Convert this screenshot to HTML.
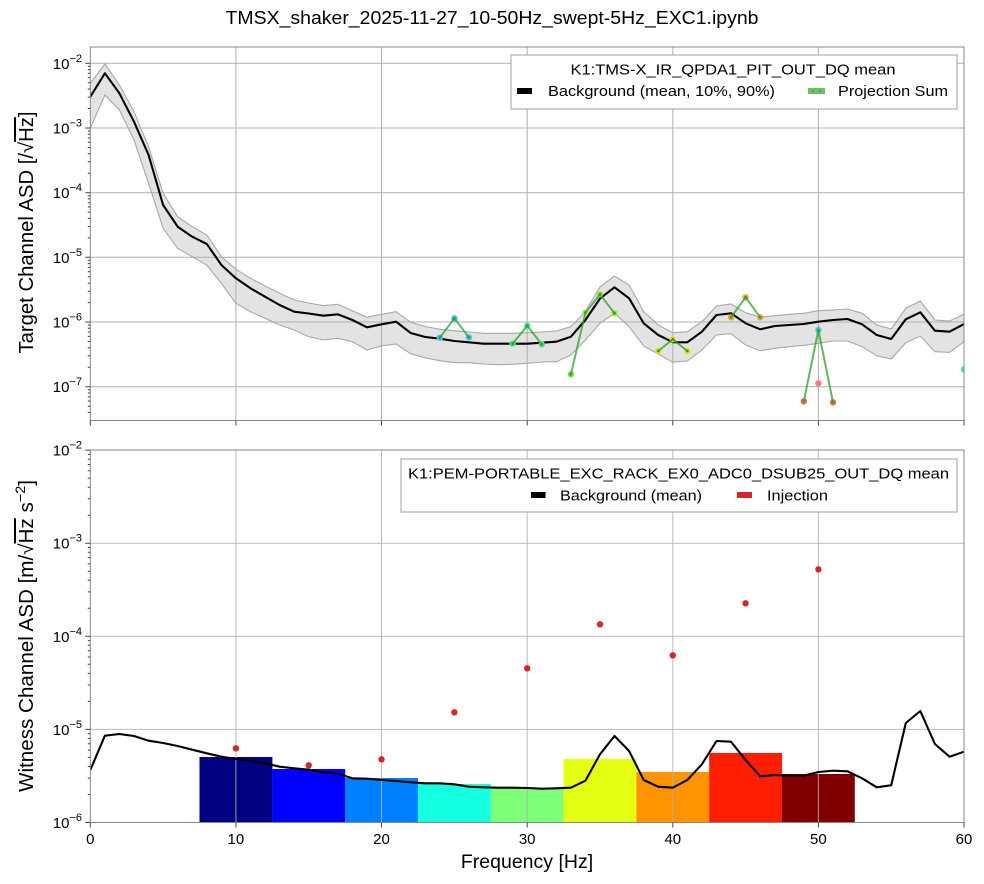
<!DOCTYPE html>
<html><head><meta charset="utf-8"><style>
html,body{margin:0;padding:0;background:#fff;}
svg{display:block;font-family:"Liberation Sans",Arial,sans-serif;}
</style></head><body>
<svg width="984" height="884" viewBox="0 0 984 884" xmlns="http://www.w3.org/2000/svg">
<defs>
<clipPath id="c1"><rect x="90.3" y="47" width="873.7" height="373.5"/></clipPath>
<clipPath id="c2"><rect x="90.3" y="450" width="873.7" height="372.5"/></clipPath>
</defs>
<rect width="984" height="884" fill="#fff"/>
<text x="492" y="24" text-anchor="middle" font-size="18" textLength="533" lengthAdjust="spacingAndGlyphs" fill="#000">TMSX_shaker_2025-11-27_10-50Hz_swept-5Hz_EXC1.ipynb</text>

<!-- ===== TOP AXES ===== -->
<g clip-path="url(#c1)">
<polygon fill="#e3e3e3" points="90.3,83.3 104.9,64 119.4,85 134,111.7 148.6,146.7 163.1,193.3 177.7,216.7 192.2,226.7 206.8,235 221.4,256.7 235.9,269.3 250.5,278.3 265,286 279.6,293.3 294.2,300 308.7,303 323.3,305.7 337.9,304.3 352.4,310.7 367,317.3 381.5,314.3 396.1,311.7 410.7,322.3 425.2,326.5 439.8,329.3 454.4,330.7 468.9,332 483.5,333.3 498,333.3 512.6,333.3 527.2,332.7 541.7,332 556.3,331 570.9,326.7 585.4,311.7 600,286.7 614.5,276 629.1,285 643.7,311.7 658.2,325 672.8,332.7 687.3,331.7 701.9,321.7 716.5,306 731,304 745.6,312.7 760.2,317.3 774.7,315.7 789.3,314.3 803.8,313.3 818.4,310.7 833,310 847.5,309 862.1,313.3 876.7,325 891.2,329 905.8,308.3 920.3,301 934.9,320 949.5,321 964,314.3 964,341.7 949.5,352.3 934.9,351.7 920.3,336 905.8,342.7 891.2,359 876.7,355.7 862.1,346.7 847.5,341 833,341 818.4,343.3 803.8,345.3 789.3,346.7 774.7,348.3 760.2,350.7 745.6,345 731,333.7 716.5,335 701.9,350 687.3,361 672.8,362.2 658.2,354 643.7,346 629.1,326.7 614.5,313.3 600,323.3 585.4,340 570.9,355 556.3,361.7 541.7,362 527.2,363.3 512.6,364.3 498,364.7 483.5,364 468.9,362.7 454.4,362.7 439.8,360.7 425.2,357.8 410.7,353.7 396.1,344 381.5,346 367,350 352.4,341.7 337.9,338.3 323.3,340 308.7,336.7 294.2,330 279.6,325 265,318.3 250.5,311.7 235.9,303.3 221.4,283.3 206.8,265 192.2,256.7 177.7,248.3 163.1,228.3 148.6,183.3 134,140 119.4,110 104.9,95 90.3,128.3"/>
<g stroke="#b0b0b0" stroke-width="1" fill="none">
<path d="M235.9,47V420.5M381.5,47V420.5M527.2,47V420.5M672.8,47V420.5M818.4,47V420.5"/>
<path d="M90.3,63.3H964M90.3,128H964M90.3,192.7H964M90.3,257.3H964M90.3,322H964M90.3,386.7H964"/>
</g>
<g fill="none" stroke="#a8a8a8" stroke-width="1.1">
<polyline points="90.3,83.3 104.9,64 119.4,85 134,111.7 148.6,146.7 163.1,193.3 177.7,216.7 192.2,226.7 206.8,235 221.4,256.7 235.9,269.3 250.5,278.3 265,286 279.6,293.3 294.2,300 308.7,303 323.3,305.7 337.9,304.3 352.4,310.7 367,317.3 381.5,314.3 396.1,311.7 410.7,322.3 425.2,326.5 439.8,329.3 454.4,330.7 468.9,332 483.5,333.3 498,333.3 512.6,333.3 527.2,332.7 541.7,332 556.3,331 570.9,326.7 585.4,311.7 600,286.7 614.5,276 629.1,285 643.7,311.7 658.2,325 672.8,332.7 687.3,331.7 701.9,321.7 716.5,306 731,304 745.6,312.7 760.2,317.3 774.7,315.7 789.3,314.3 803.8,313.3 818.4,310.7 833,310 847.5,309 862.1,313.3 876.7,325 891.2,329 905.8,308.3 920.3,301 934.9,320 949.5,321 964,314.3"/>
<polyline points="964,341.7 949.5,352.3 934.9,351.7 920.3,336 905.8,342.7 891.2,359 876.7,355.7 862.1,346.7 847.5,341 833,341 818.4,343.3 803.8,345.3 789.3,346.7 774.7,348.3 760.2,350.7 745.6,345 731,333.7 716.5,335 701.9,350 687.3,361 672.8,362.2 658.2,354 643.7,346 629.1,326.7 614.5,313.3 600,323.3 585.4,340 570.9,355 556.3,361.7 541.7,362 527.2,363.3 512.6,364.3 498,364.7 483.5,364 468.9,362.7 454.4,362.7 439.8,360.7 425.2,357.8 410.7,353.7 396.1,344 381.5,346 367,350 352.4,341.7 337.9,338.3 323.3,340 308.7,336.7 294.2,330 279.6,325 265,318.3 250.5,311.7 235.9,303.3 221.4,283.3 206.8,265 192.2,256.7 177.7,248.3 163.1,228.3 148.6,183.3 134,140 119.4,110 104.9,95 90.3,128.3"/>
</g>
<polyline fill="none" stroke="#000" stroke-width="2.1" stroke-linejoin="round" points="90.3,96.7 104.9,73.3 119.4,93.3 134,121.7 148.6,155 163.1,205 177.7,226.7 192.2,236.7 206.8,244 221.4,265 235.9,278.3 250.5,288.3 265,296.7 279.6,305 294.2,311.7 308.7,313.5 323.3,315.7 337.9,314.3 352.4,320 367,327.3 381.5,324.3 396.1,321.7 410.7,333 425.2,337 439.8,338.7 454.4,341 468.9,342.3 483.5,343.7 498,343.7 512.6,343.7 527.2,343.7 541.7,342.7 556.3,341.7 570.9,336.7 585.4,320 600,298.5 614.5,287.3 629.1,298.3 643.7,323.3 658.2,335 672.8,342.2 687.3,342.3 701.9,331.7 716.5,315 731,313.3 745.6,323.3 760.2,329.3 774.7,326 789.3,325 803.8,324 818.4,321.7 833,320 847.5,319 862.1,324.3 876.7,335 891.2,339 905.8,319.3 920.3,312.3 934.9,330.7 949.5,331.7 964,324"/>
<g>
<circle cx="439.8" cy="337.7" r="3.2" fill="#3cc8ea"/><circle cx="454.4" cy="318.3" r="3.2" fill="#3cc8ea"/><circle cx="468.9" cy="337.3" r="3.2" fill="#3cc8ea"/>
<circle cx="512.6" cy="343.7" r="3.2" fill="#4ee68c"/><circle cx="527.2" cy="325.7" r="3.2" fill="#4ee68c"/><circle cx="541.7" cy="344.3" r="3.2" fill="#4ee68c"/>
<circle cx="570.9" cy="374.3" r="3.2" fill="#7ee040"/><circle cx="585.4" cy="312.7" r="3.2" fill="#a0e830"/><circle cx="600" cy="294.3" r="3.2" fill="#a0e830"/><circle cx="614.5" cy="313.3" r="3.2" fill="#a0e830"/>
<circle cx="658.2" cy="351" r="3.2" fill="#ecdc1c"/><circle cx="672.8" cy="339.3" r="3.2" fill="#ecdc1c"/><circle cx="687.3" cy="351" r="3.2" fill="#ecdc1c"/>
<circle cx="731" cy="317.3" r="3.2" fill="#f5a030"/><circle cx="745.6" cy="297.3" r="3.2" fill="#f5a030"/><circle cx="760.2" cy="317.3" r="3.2" fill="#f5a030"/>
<circle cx="803.8" cy="401.3" r="3.2" fill="#f26655"/><circle cx="818.4" cy="330" r="3.2" fill="#40ccf0"/><circle cx="833" cy="402.3" r="3.2" fill="#f26655"/>
<circle cx="818.4" cy="383.3" r="3.2" fill="#ff7b7b"/>
<circle cx="964" cy="369.3" r="3.2" fill="#40e8a0"/>
</g>
<g fill="none" stroke="#2ca02c" stroke-opacity="0.75" stroke-width="2" stroke-linejoin="round">
<polyline points="439.8,337.7 454.4,318.3 468.9,337.3"/>
<polyline points="512.6,343.7 527.2,325.7 541.7,344.3"/>
<polyline points="570.9,374.3 585.4,312.7 600,294.3 614.5,313.3"/>
<polyline points="658.2,351 672.8,339.3 687.3,351"/>
<polyline points="731,317.3 745.6,297.3 760.2,317.3"/>
<polyline points="803.8,401.3 818.4,330 833,402.3"/>
</g>
<g fill="#3a9a3a">
<circle cx="439.8" cy="337.7" r="1.4"/><circle cx="454.4" cy="318.3" r="1.4"/><circle cx="468.9" cy="337.3" r="1.4"/>
<circle cx="512.6" cy="343.7" r="1.4"/><circle cx="527.2" cy="325.7" r="1.4"/><circle cx="541.7" cy="344.3" r="1.4"/>
<circle cx="570.9" cy="374.3" r="1.4"/><circle cx="585.4" cy="312.7" r="1.4"/><circle cx="600" cy="294.3" r="1.4"/><circle cx="614.5" cy="313.3" r="1.4"/>
<circle cx="658.2" cy="351" r="1.4"/><circle cx="672.8" cy="339.3" r="1.4"/><circle cx="687.3" cy="351" r="1.4"/>
<circle cx="731" cy="317.3" r="1.4"/><circle cx="745.6" cy="297.3" r="1.4"/><circle cx="760.2" cy="317.3" r="1.4"/>
<circle cx="803.8" cy="401.3" r="1.4"/><circle cx="818.4" cy="330" r="1.4"/><circle cx="833" cy="402.3" r="1.4"/>
</g>
</g>
<rect x="90.3" y="47" width="873.7" height="373.5" fill="none" stroke="#888" stroke-width="1"/>
<g stroke="#444" stroke-width="1" fill="none">
<path d="M90.3,420.5v5M235.9,420.5v5M381.5,420.5v5M527.2,420.5v5M672.8,420.5v5M818.4,420.5v5M964,420.5v5"/>
<path d="M90.3,63.3h-5M90.3,128h-5M90.3,192.7h-5M90.3,257.3h-5M90.3,322h-5M90.3,386.7h-5"/>
<path d="M90.3,108.5h-2.5M90.3,97.1h-2.5M90.3,89h-2.5M90.3,82.8h-2.5M90.3,77.6h-2.5M90.3,73.3h-2.5M90.3,69.6h-2.5M90.3,66.3h-2.5M90.3,173.2h-2.5M90.3,161.8h-2.5M90.3,153.7h-2.5M90.3,147.5h-2.5M90.3,142.3h-2.5M90.3,138h-2.5M90.3,134.3h-2.5M90.3,131h-2.5M90.3,237.9h-2.5M90.3,226.5h-2.5M90.3,218.4h-2.5M90.3,212.1h-2.5M90.3,207h-2.5M90.3,202.7h-2.5M90.3,198.9h-2.5M90.3,195.7h-2.5M90.3,302.6h-2.5M90.3,291.2h-2.5M90.3,283.1h-2.5M90.3,276.8h-2.5M90.3,271.7h-2.5M90.3,267.4h-2.5M90.3,263.6h-2.5M90.3,260.3h-2.5M90.3,367.2h-2.5M90.3,355.8h-2.5M90.3,347.8h-2.5M90.3,341.5h-2.5M90.3,336.4h-2.5M90.3,332h-2.5M90.3,328.3h-2.5M90.3,325h-2.5M90.3,412.4h-2.5M90.3,406.2h-2.5M90.3,401h-2.5M90.3,396.7h-2.5M90.3,393h-2.5M90.3,389.7h-2.5"/>
</g>
<g font-size="15" fill="#000" text-anchor="end">
<text x="82" y="68.8">10<tspan font-size="11" dy="-7">−2</tspan></text>
<text x="82" y="133.5">10<tspan font-size="11" dy="-7">−3</tspan></text>
<text x="82" y="198.2">10<tspan font-size="11" dy="-7">−4</tspan></text>
<text x="82" y="262.8">10<tspan font-size="11" dy="-7">−5</tspan></text>
<text x="82" y="327.5">10<tspan font-size="11" dy="-7">−6</tspan></text>
<text x="82" y="392.2">10<tspan font-size="11" dy="-7">−7</tspan></text>
</g>
<text transform="translate(33,232.5) rotate(-90)" text-anchor="middle" font-size="20" textLength="242" lengthAdjust="spacingAndGlyphs" fill="#000">Target Channel ASD [/√<tspan style="text-decoration:overline">Hz</tspan>]</text>

<!-- top legend -->
<rect x="511" y="55" width="446" height="54" fill="#fff" stroke="#a0a0a0" stroke-width="1"/>
<text x="733" y="74.5" text-anchor="middle" font-size="15" textLength="325" lengthAdjust="spacingAndGlyphs">K1:TMS-X_IR_QPDA1_PIT_OUT_DQ mean</text>
<rect x="517" y="88" width="15" height="6" fill="#000"/>
<text x="548" y="96" font-size="15" textLength="227" lengthAdjust="spacingAndGlyphs">Background (mean, 10%, 90%)</text>
<rect x="808" y="88" width="17" height="6" fill="#6cbc6c"/>
<circle cx="813" cy="91" r="0.9" fill="#3a9a3a"/><circle cx="820" cy="91" r="0.9" fill="#3a9a3a"/>
<text x="838" y="96" font-size="15" textLength="110" lengthAdjust="spacingAndGlyphs">Projection Sum</text>

<!-- ===== BOTTOM AXES ===== -->
<g clip-path="url(#c2)">
<rect x="199.5" y="757" width="72.9" height="66" fill="#000080"/>
<rect x="272.3" y="769" width="72.9" height="54" fill="#0000ff"/>
<rect x="345.1" y="778" width="72.9" height="45" fill="#0080ff"/>
<rect x="417.9" y="784" width="72.9" height="39" fill="#15ffe1"/>
<rect x="490.7" y="788" width="72.9" height="35" fill="#7dff7a"/>
<rect x="563.6" y="759" width="72.9" height="64" fill="#e4ff13"/>
<rect x="636.4" y="772" width="72.9" height="51" fill="#ff9400"/>
<rect x="709.2" y="753" width="72.9" height="70" fill="#ff1e00"/>
<rect x="782" y="774" width="72.8" height="49" fill="#800000"/>
<g stroke="#b0b0b0" stroke-width="1" fill="none" stroke-opacity="0.85">
<path d="M235.9,450V822.5M381.5,450V822.5M527.2,450V822.5M672.8,450V822.5M818.4,450V822.5"/>
<path d="M90.3,543.2H964M90.3,636.3H964M90.3,729.4H964"/>
</g>
<polyline fill="none" stroke="#000" stroke-width="2.1" stroke-linejoin="round" points="90.3,770 104.9,735.7 119.4,734 134,736 148.6,740.7 163.1,743 177.7,746 192.2,749.7 206.8,753.3 221.4,756.7 235.9,759 250.5,761 265,763.3 279.6,766.7 294.2,768.3 308.7,769.7 323.3,772.3 337.9,773.7 352.4,778.3 367,778.7 381.5,780 396.1,781 410.7,782.3 425.2,783.3 439.8,783.3 454.4,784.3 468.9,786.7 483.5,787.3 498,787.7 512.6,787.7 527.2,788 541.7,788.7 556.3,788.3 570.9,787.7 585.4,780.7 600,754.3 614.5,736 629.1,751 643.7,780 658.2,786.7 672.8,787.7 687.3,780 701.9,764.3 716.5,741 731,741.7 745.6,760 760.2,776.3 774.7,775 789.3,775.7 803.8,775.7 818.4,772 833,770.7 847.5,771.3 862.1,778.3 876.7,787.3 891.2,785.3 905.8,723 920.3,711 934.9,744 949.5,756.7 964,751.7"/>
<g fill="#d62728">
<circle cx="235.9" cy="748.3" r="3.2"/><circle cx="308.7" cy="765.3" r="3.2"/><circle cx="381.5" cy="759.3" r="3.2"/>
<circle cx="454.4" cy="712.3" r="3.2"/><circle cx="527.2" cy="668.3" r="3.2"/><circle cx="600" cy="624.3" r="3.2"/>
<circle cx="672.8" cy="655.3" r="3.2"/><circle cx="745.6" cy="603.3" r="3.2"/><circle cx="818.4" cy="569.3" r="3.2"/>
</g>
</g>
<rect x="90.3" y="450" width="873.7" height="372.5" fill="none" stroke="#888" stroke-width="1"/>
<g stroke="#444" stroke-width="1" fill="none">
<path d="M90.3,822.5v5M235.9,822.5v5M381.5,822.5v5M527.2,822.5v5M672.8,822.5v5M818.4,822.5v5M964,822.5v5"/>
<path d="M90.3,450.1h-5M90.3,543.2h-5M90.3,636.3h-5M90.3,729.4h-5M90.3,822.5h-5"/>
<path d="M90.3,794.5h-2.5M90.3,778.1h-2.5M90.3,766.5h-2.5M90.3,757.4h-2.5M90.3,750.1h-2.5M90.3,743.8h-2.5M90.3,738.4h-2.5M90.3,733.7h-2.5M90.3,701.4h-2.5M90.3,685h-2.5M90.3,673.4h-2.5M90.3,664.3h-2.5M90.3,657h-2.5M90.3,650.7h-2.5M90.3,645.3h-2.5M90.3,640.6h-2.5M90.3,608.3h-2.5M90.3,591.9h-2.5M90.3,580.3h-2.5M90.3,571.2h-2.5M90.3,563.9h-2.5M90.3,557.6h-2.5M90.3,552.2h-2.5M90.3,547.5h-2.5M90.3,515.2h-2.5M90.3,498.8h-2.5M90.3,487.2h-2.5M90.3,478.1h-2.5M90.3,470.8h-2.5M90.3,464.5h-2.5M90.3,459.1h-2.5M90.3,454.4h-2.5"/>
</g>
<g font-size="15" fill="#000" text-anchor="end">
<text x="82" y="455.6">10<tspan font-size="11" dy="-7">−2</tspan></text>
<text x="82" y="548.7">10<tspan font-size="11" dy="-7">−3</tspan></text>
<text x="82" y="641.8">10<tspan font-size="11" dy="-7">−4</tspan></text>
<text x="82" y="734.9">10<tspan font-size="11" dy="-7">−5</tspan></text>
<text x="82" y="828">10<tspan font-size="11" dy="-7">−6</tspan></text>
</g>
<g font-size="15" fill="#000" text-anchor="middle">
<text x="90.3" y="844">0</text><text x="235.9" y="844">10</text><text x="381.5" y="844">20</text><text x="527.2" y="844">30</text><text x="672.8" y="844">40</text><text x="818.4" y="844">50</text><text x="964" y="844">60</text>
</g>
<text x="527" y="868" text-anchor="middle" font-size="19.5">Frequency [Hz]</text>
<text transform="translate(33,636) rotate(-90)" text-anchor="middle" font-size="20" textLength="312" lengthAdjust="spacingAndGlyphs" fill="#000">Witness Channel ASD [m/√<tspan style="text-decoration:overline">Hz</tspan> s<tspan font-size="14" dy="-8">−2</tspan><tspan dy="8">]</tspan></text>

<!-- bottom legend -->
<rect x="401" y="459" width="556" height="53" fill="#fff" stroke="#a0a0a0" stroke-width="1"/>
<text x="678.5" y="478.5" text-anchor="middle" font-size="15" textLength="541" lengthAdjust="spacingAndGlyphs">K1:PEM-PORTABLE_EXC_RACK_EX0_ADC0_DSUB25_OUT_DQ mean</text>
<rect x="531" y="492" width="14.5" height="6" fill="#000"/>
<text x="560" y="500.5" font-size="15" textLength="142" lengthAdjust="spacingAndGlyphs">Background (mean)</text>
<rect x="737" y="492" width="15" height="6" fill="#d62728"/>
<text x="767" y="500.5" font-size="15" textLength="61" lengthAdjust="spacingAndGlyphs">Injection</text>
</svg>
</body></html>
